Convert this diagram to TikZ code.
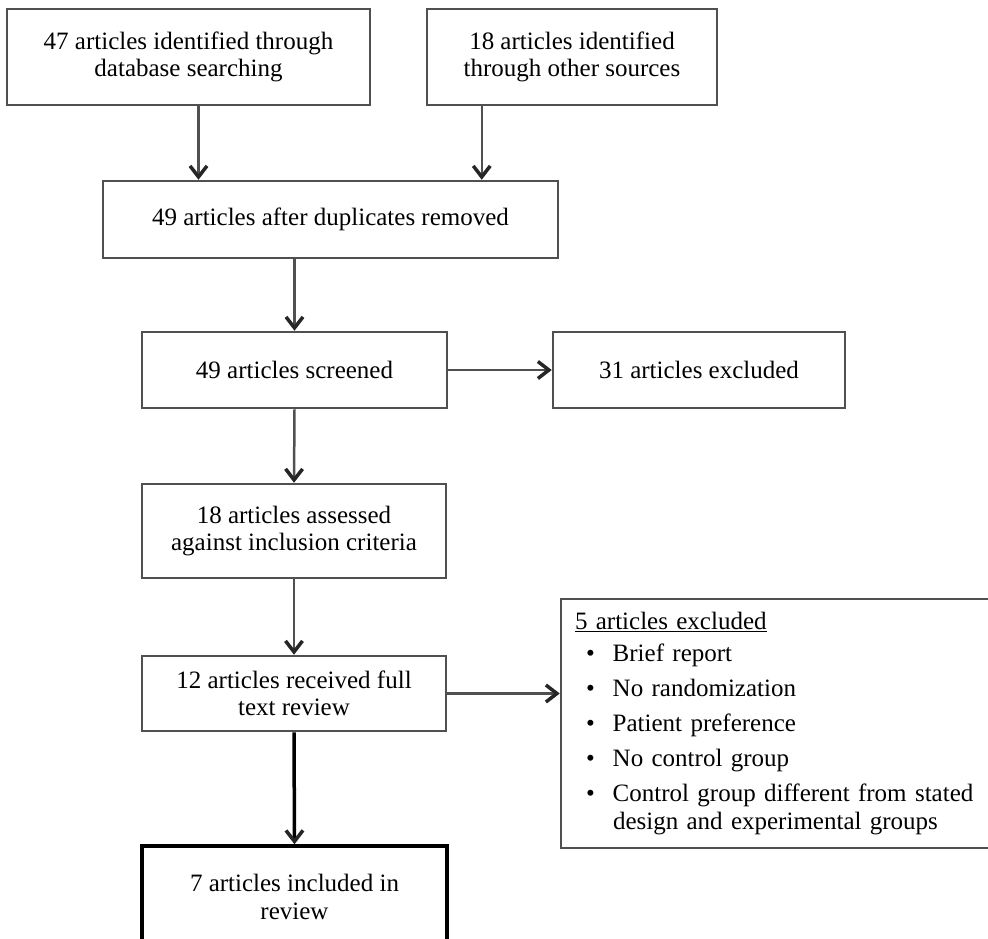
\documentclass[tikz,border=0pt]{standalone}
\usepackage{fontspec}
\setmainfont{Liberation Serif}
\usepackage{tikz}
\usepackage{xcolor}
\usetikzlibrary{positioning}
\usetikzlibrary{arrows.meta}
\definecolor{boxgray}{HTML}{505050}

\begin{document}
\begin{tikzpicture}[x=1pt, y=-1pt,
		box/.style={draw=boxgray, line width=2.5pt, align=center, inner sep=0pt, font=\fontsize{25}{27.5}\selectfont},
		arr/.style={draw=boxgray, line width=2.5pt, -{Straight Barb[length=11pt,width=17pt,line width=3.5pt,color=black!85]}}]
		\useasboundingbox (0,0) rectangle (988,938);
		\clip (0,0) rectangle (988,938);
		\node[box, minimum width=363, minimum height=96] (ident) at (188.5,57) {47 articles identified through\\database searching};
		\node[box, minimum width=290, minimum height=96] (other) at (572,57) {18 articles identified\\through other sources};
		\node[box, minimum width=455, minimum height=77] (dedup) at (330.5,219.5) {49 articles after duplicates removed};
		\node[box, minimum width=305, minimum height=76] (screen) at (294.5,370) {49 articles screened};
		\node[box, minimum width=292, minimum height=76] (excl) at (699,370) {31 articles excluded};
		\node[box, minimum width=304, minimum height=94] (assess) at (294,531) {18 articles assessed\\against inclusion criteria};
		\node[box, minimum width=304, minimum height=75] (fulltext) at (294,693.5) {12 articles received full\\text review};
		\node[box, minimum width=440, minimum height=249, text width=412, align=left] (reasons) at (781,723.5) {\underline{5 articles excluded}\\[4.5pt]
			\hspace*{11pt}\textbullet\hspace{18pt}Brief report\\[7.5pt]
			\hspace*{11pt}\textbullet\hspace{18pt}No randomization\\[7.5pt]
			\hspace*{11pt}\textbullet\hspace{18pt}Patient preference\\[7.5pt]
			\hspace*{11pt}\textbullet\hspace{18pt}No control group\\[7.5pt]
			\hspace*{11pt}\textbullet\hspace{18pt}Control group different from stated\\
			\hspace*{38pt}design and experimental groups};
		\node[box, draw=black, line width=3.5pt, minimum width=305, minimum height=102] (incl) at (294.5,897) {7 articles included in\\review};
		\draw[arr] ([xshift=10pt]ident.south) -- ([xshift=10pt]ident.south |- dedup.north);
		\draw[arr] ([xshift=56pt]other.south west) -- ([xshift=56pt]other.south west |- dedup.north);
		\draw[arr] (dedup.south -| screen.north) -- (screen.north);
		\draw[arr] (screen.east) -- (excl.west);
		\draw[arr] (screen.south) -- (assess.north);
		\draw[arr] (assess.south) -- (fulltext.north);
		\draw[arr] (fulltext.east) -- (fulltext.east -| reasons.west);
		\draw[arr, draw=black, line width=3.5pt] (fulltext.south) -- (incl.north);
	\end{tikzpicture}
\end{document}
